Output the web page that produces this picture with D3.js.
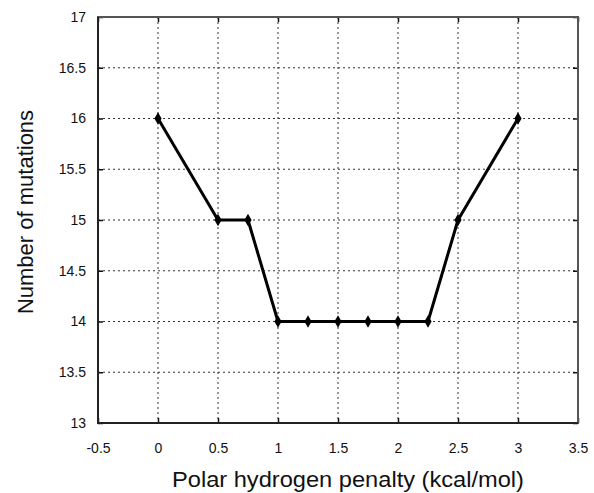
<!DOCTYPE html>
<html>
  <head>
    <meta charset="utf-8">
    <script src="https://d3js.org/d3.v7.min.js"></script>
    <style>
      body { margin: 0; background: #fff; }
      text { font-family: Arial, "Liberation Sans", sans-serif; fill: #111; }
    </style>
  </head>
  <body>
  </body>
</html>

<script>
  // data
  var penalty   = [0, 0.5, 0.75, 1, 1.25, 1.5, 1.75, 2, 2.25, 2.5, 3];
  var mutations = [16, 15, 15, 14, 14, 14, 14, 14, 14, 15, 16];
  var xTicks = [-0.5, 0, 0.5, 1, 1.5, 2, 2.5, 3, 3.5];
  var yTicks = [13, 13.5, 14, 14.5, 15, 15.5, 16, 16.5, 17];

  var width = 594, height = 493;
  var pLeft = 98, pRight = 578, pTop = 17, pBottom = 423;

  var svg = d3.select("body").append("svg")
              .attr("width", width)
              .attr("height", height);

  var x = d3.scaleLinear().domain([-0.5, 3.5]).range([pLeft, pRight]);
  var y = d3.scaleLinear().domain([13, 17]).range([pBottom, pTop]);
  var fmt = function(d) { return String(d); }; // plain hyphen minus like the original

  // grid
  svg.append("g").selectAll("line")
     .data(xTicks.slice(1, -1))
     .enter().append("line")
     .attr("x1", function(d) { return x(d); })
     .attr("x2", function(d) { return x(d); })
     .attr("y1", pTop).attr("y2", pBottom)
     .attr("stroke", "#333").attr("stroke-width", 1)
     .attr("stroke-dasharray", "2,3");
  svg.append("g").selectAll("line")
     .data(yTicks.slice(1, -1))
     .enter().append("line")
     .attr("y1", function(d) { return y(d); })
     .attr("y2", function(d) { return y(d); })
     .attr("x1", pLeft).attr("x2", pRight)
     .attr("stroke", "#333").attr("stroke-width", 1)
     .attr("stroke-dasharray", "2,3");

  // axes
  var xAxis = d3.axisBottom(x).tickValues(xTicks).tickSize(-5).tickPadding(20).tickFormat(fmt);
  var yAxis = d3.axisLeft(y).tickValues(yTicks).tickSize(-5).tickPadding(12).tickFormat(fmt);
  // mirrored ticks, no labels
  var xTop = d3.axisTop(x).tickValues(xTicks).tickSize(-5).tickFormat("");
  var yRight = d3.axisRight(y).tickValues(yTicks).tickSize(-5).tickFormat("");

  var gx = svg.append("g").attr("transform", "translate(0," + pBottom + ")").call(xAxis);
  var gy = svg.append("g").attr("transform", "translate(" + pLeft + ",0)").call(yAxis);
  var gt = svg.append("g").attr("transform", "translate(0," + pTop + ")").call(xTop);
  var gr = svg.append("g").attr("transform", "translate(" + pRight + ",0)").call(yRight);
  [gx, gy, gt, gr].forEach(function(g) {
    g.select(".domain").remove();
    g.selectAll(".tick line").attr("stroke", "#111").attr("stroke-width", 1.5);
    g.selectAll("text").style("font-size", "14px").attr("fill", "#111")
     .attr("font-family", "Arial, 'Liberation Sans', sans-serif");
  });

  // frame
  svg.append("rect")
     .attr("x", pLeft).attr("y", pTop)
     .attr("width", pRight - pLeft).attr("height", pBottom - pTop)
     .attr("fill", "none").attr("stroke", "#555").attr("stroke-width", 2);
  svg.append("path")
     .attr("d", "M" + pLeft + "," + pTop + "V" + pBottom + "H" + pRight)
     .attr("fill", "none").attr("stroke", "#222").attr("stroke-width", 2);

  // series
  var pts = penalty.map(function(p, i) { return [p, mutations[i]]; });
  var line = d3.line()
               .x(function(d) { return x(d[0]); })
               .y(function(d) { return y(d[1]); });
  svg.append("path")
     .datum(pts)
     .attr("d", line)
     .attr("fill", "none")
     .attr("stroke", "#000")
     .attr("stroke-width", 3)
     .attr("stroke-linejoin", "round");

  svg.append("g").selectAll("path")
     .data(pts)
     .enter().append("path")
     .attr("d", d3.symbol().type(d3.symbolDiamond).size(45))
     .attr("transform", function(d) { return "translate(" + x(d[0]) + "," + y(d[1]) + ")"; })
     .attr("fill", "#000");

  // labels
  svg.append("text")
     .attr("x", 348)
     .attr("y", 487)
     .attr("text-anchor", "middle")
     .attr("textLength", 352)
     .attr("lengthAdjust", "spacingAndGlyphs")
     .style("font-size", "22px")
     .text("Polar hydrogen penalty (kcal/mol)");
  svg.append("text")
     .attr("transform", "translate(33,212) rotate(-90)")
     .attr("text-anchor", "middle")
     .style("font-size", "22px")
     .text("Number of mutations");
</script>
